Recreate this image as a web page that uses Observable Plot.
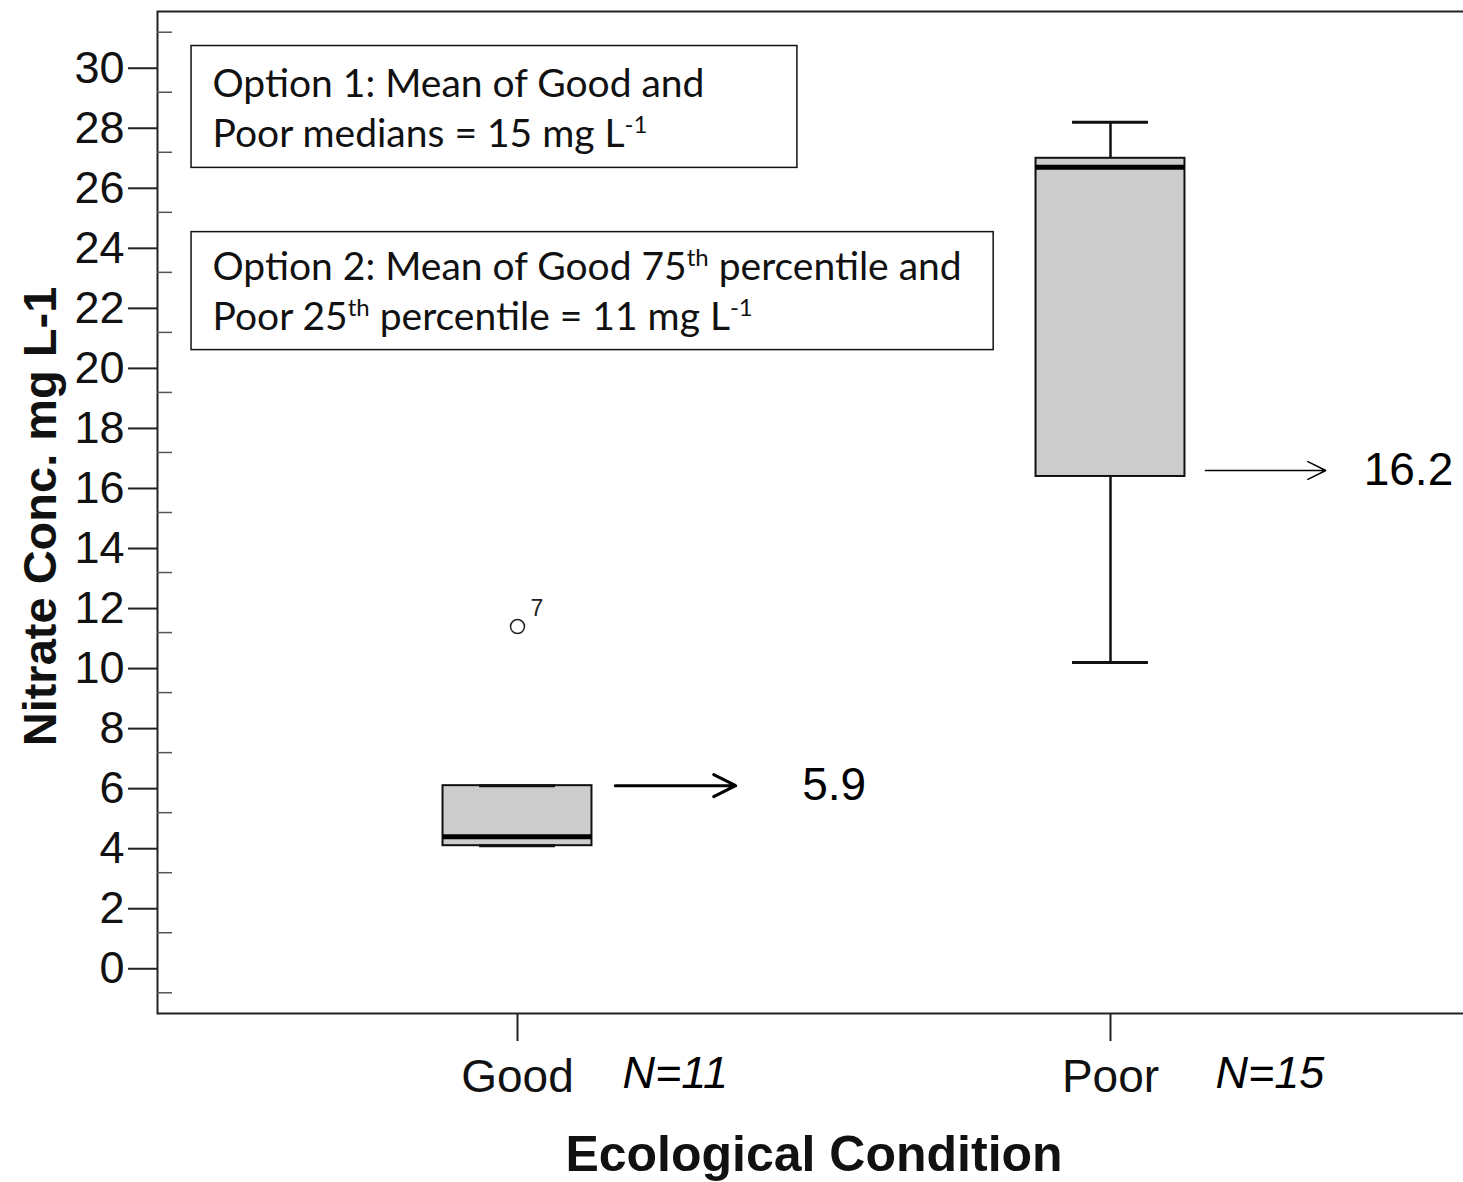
<!DOCTYPE html>
<html><head><meta charset="utf-8">
<script src="https://cdn.jsdelivr.net/npm/d3@7"></script>
<script src="https://cdn.jsdelivr.net/npm/@observablehq/plot@0.6"></script>
<style>
html,body{margin:0;padding:0;background:#fff;}
#chart{width:1463px;height:1182px;overflow:hidden;}
#chart svg{max-width:none !important;}
</style>
</head><body><div id="chart"></div>
<script>
// ---- data ----
const conditions = ["Good", "Poor"];
const positions = [1, 2];
const whiskerLow = [3.9, 10.0];
const quartile1 = [3.9, 16.2];
const medians = [4.2, 26.5];
const quartile3 = [5.9, 26.8];
const whiskerHigh = [5.9, 28.0];
const sampleSizes = ["N=11", "N=15"];

const outlierPositions = [1];
const outlierValues = [11.2];
const outlierLabels = ["7"];

const arrowValues = [5.9, 16.4];
const arrowLabels = ["5.9", "16.2"];
const arrowStart = [1.165, 2.160];
const arrowEnd = [1.368, 2.363];
const arrowLabelX = [1.48, 2.427];

const yMajorTicks = d3.range(0, 31, 2);
const yMinorTicks = d3.range(-1, 32, 2);
const yTitle = "Nitrate Conc. mg L-1";
const xTitle = "Ecological Condition";

const noteLines = [
  "Option 1: Mean of Good and",
  "Poor medians = 15 mg L^{-1}",
  "Option 2: Mean of Good 75^{th} percentile and",
  "Poor 25^{th} percentile = 11 mg L^{-1}"
];
const noteLineX = [0.4857, 0.4857, 0.4857, 0.4857];
const noteLineY = [28.84, 27.18, 22.74, 21.08];
const noteBoxX1 = [0.4503, 0.4503];
const noteBoxX2 = [1.472, 1.803];
const noteBoxY1 = [26.48, 20.41];
const noteBoxY2 = [30.54, 24.34];

// ---- tables built from the arrays ----
const boxes = conditions.map((c, i) => ({
  cond: c, pos: positions[i], lo: whiskerLow[i], q1: quartile1[i],
  med: medians[i], q3: quartile3[i], hi: whiskerHigh[i], n: sampleSizes[i]
}));
const outliers = outlierValues.map((v, i) => ({pos: outlierPositions[i], value: v, label: outlierLabels[i]}));
const arrows = arrowValues.map((v, i) => ({y: v, x1: arrowStart[i], x2: arrowEnd[i], lx: arrowLabelX[i], label: arrowLabels[i]}));
const notes = noteLines.map((t, i) => ({text: t, x: noteLineX[i], y: noteLineY[i]}));
const noteBoxes = noteBoxX1.map((x, i) => ({x1: x, x2: noteBoxX2[i], y1: noteBoxY1[i], y2: noteBoxY2[i]}));

const boxHalf = 0.1256;
const capHalf = 0.064;

const chart = Plot.plot({
  width: 1470,
  height: 1182,
  marginLeft: 157,
  marginRight: 0,
  marginTop: 11,
  marginBottom: 169,
  style: {fontFamily: "'Liberation Sans', Arial, sans-serif", background: "white", color: "#111", maxWidth: "none", overflow: "visible"},
  x: {type: "linear", domain: [0.3929, 2.6071]},
  y: {domain: [-1.69, 31.69]},
  marks: [
    Plot.frame({stroke: "#222", strokeWidth: 2}),
    // annotation boxes
    Plot.rect(noteBoxes, {x1: "x1", x2: "x2", y1: "y1", y2: "y2", fill: "white", stroke: "#111", strokeWidth: 1.5}),
    Plot.text(notes, {x: "x", y: "y", text: "text", textAnchor: "start", lineAnchor: "bottom",
      fontFamily: "Lato, 'Open Sans', sans-serif", fontSize: 39, fill: "#111"}),
    // whiskers
    Plot.ruleX(boxes, {x: "pos", y1: "q3", y2: "hi", stroke: "#111", strokeWidth: 2.5}),
    Plot.ruleX(boxes, {x: "pos", y1: "lo", y2: "q1", stroke: "#111", strokeWidth: 2.5}),
    // boxes
    Plot.rect(boxes, {x1: d => d.pos - boxHalf, x2: d => d.pos + boxHalf, y1: "q1", y2: "q3",
      fill: "#cccccc", stroke: "#111", strokeWidth: 2}),
    // caps
    Plot.ruleY(boxes, {y: "hi", x1: d => d.pos - capHalf, x2: d => d.pos + capHalf, stroke: "#111", strokeWidth: 3}),
    Plot.ruleY(boxes, {y: "lo", x1: d => d.pos - capHalf, x2: d => d.pos + capHalf, stroke: "#111", strokeWidth: 3}),
    // medians
    Plot.ruleY(boxes, {y: "med", x1: d => d.pos - boxHalf, x2: d => d.pos + boxHalf, stroke: "#000", strokeWidth: 5}),
    // outlier
    Plot.dot(outliers, {x: "pos", y: "value", r: 7, stroke: "#222", strokeWidth: 1.5, fill: "white"}),
    Plot.text(outliers, {x: "pos", y: "value", text: "label", dx: 13, dy: -11, textAnchor: "start", lineAnchor: "bottom", fontSize: 23, fill: "#222"}),
    // arrows
    Plot.arrow(arrows.filter((d, i) => i === 0), {x1: "x1", x2: "x2", y1: "y", y2: "y", stroke: "#000", strokeWidth: 3, headLength: 12.3, headAngle: 53}),
    Plot.arrow(arrows.filter((d, i) => i === 1), {x1: "x1", x2: "x2", y1: "y", y2: "y", stroke: "#000", strokeWidth: 1.5, headLength: 20, headAngle: 53}),
    Plot.text(arrows, {x: "lx", y: "y", text: "label", textAnchor: "start", lineAnchor: "middle", fontSize: 46, fill: "#000"}),
    // sample sizes
    Plot.text(boxes, {x: "pos", frameAnchor: "bottom", text: "n", dx: 105, dy: 74, textAnchor: "start", lineAnchor: "bottom",
      fontSize: 45, fontStyle: "italic", fill: "#000"}),
    // axes
    Plot.axisX({ticks: positions, tickFormat: d => conditions[positions.indexOf(d)], tickSize: 28, tickPadding: 18,
      fontSize: 46, label: null, strokeWidth: 2, stroke: "#222", fill: "#111"}),
    Plot.axisY({ticks: yMajorTicks, tickSize: 29, tickPadding: 4, dy: 6, fontSize: 45, label: null, strokeWidth: 2, stroke: "#222", fill: "#111"}),
    Plot.axisY({ticks: yMinorTicks, tickSize: 15, dx: 15, tickFormat: () => "", label: null, strokeWidth: 1.5, stroke: "#555"}),
    // axis titles
    Plot.text([yTitle], {text: d => d, frameAnchor: "left", rotate: -90, dx: -102, dy: 4, textAnchor: "middle", lineAnchor: "bottom",
      fontSize: 47, fontWeight: "bold", fill: "#111"}),
    Plot.text([xTitle], {text: d => d, frameAnchor: "bottom", dy: 157, textAnchor: "middle", lineAnchor: "bottom",
      fontSize: 50, fontWeight: "bold", fill: "#111"})
  ]
});

// superscripts (e.g. L^{-1}, 75^{th}) as real tspans
d3.select(chart).selectAll("text").each(function () {
  const t = this.textContent;
  if (!t.includes("^{")) return;
  const parts = t.split(/(\^\{[^}]*\})/).filter(p => p.length);
  this.textContent = "";
  let raised = false;
  for (const p of parts) {
    const ts = document.createElementNS("http://www.w3.org/2000/svg", "tspan");
    if (p.startsWith("^{")) {
      ts.textContent = p.slice(2, -1);
      ts.setAttribute("font-size", "24");
      ts.setAttribute("dy", "-14");
      raised = true;
    } else {
      ts.textContent = p;
      if (raised) ts.setAttribute("dy", "14");
      raised = false;
    }
    this.appendChild(ts);
  }
});

chart.style.maxWidth = "none";
document.getElementById("chart").appendChild(chart);
</script>
</body></html>
